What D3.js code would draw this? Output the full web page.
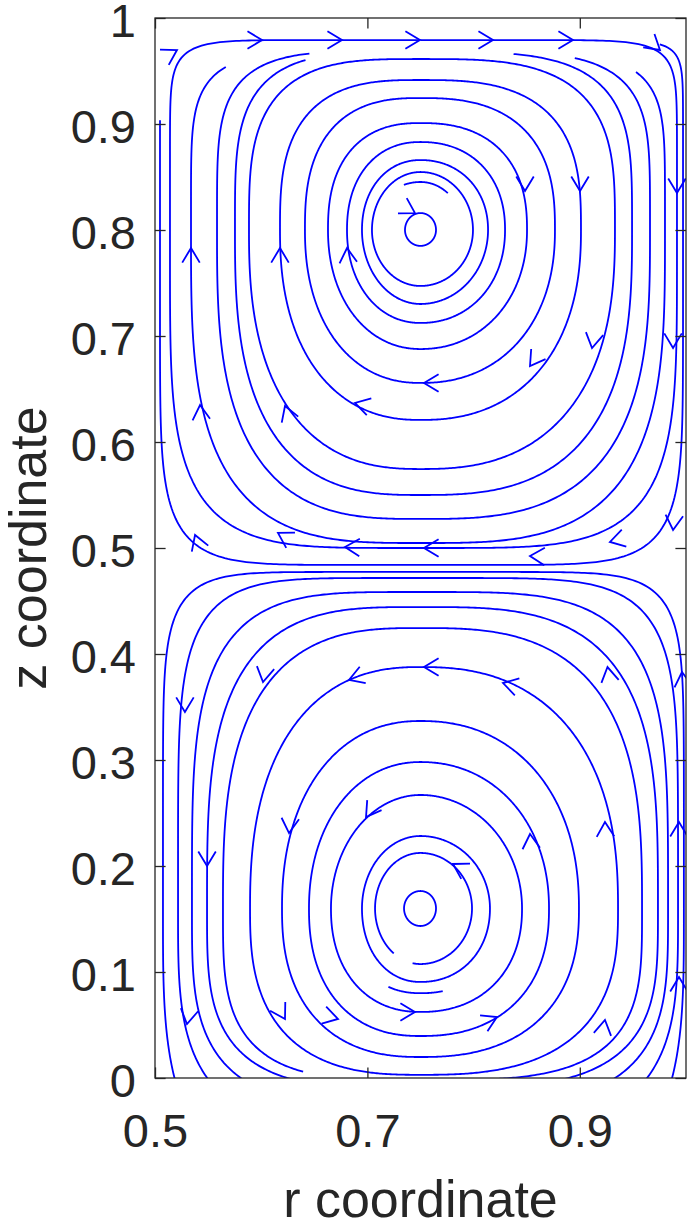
<!DOCTYPE html>
<html>
<head>
<meta charset="utf-8">
<script src="https://cdn.jsdelivr.net/npm/d3@7"></script>
<style>
  body { margin: 0; background: #fff; }
  text { font-family: "Liberation Sans", Arial, sans-serif; fill: #262626; }
</style>
</head>
<body>
<div id="chart"></div>
<script>
// axis ticks
const xTicks = [0.5, 0.7, 0.9];
const yTicks = [0, 0.1, 0.2, 0.3, 0.4, 0.5, 0.6, 0.7, 0.8, 0.9, 1];

// upper vortex: centre, then each streamline as
// [left r, right r, top z, bottom z, squareness top, squareness bottom, start deg, end deg]
const upperCentre = [0.75, 0.80];
const upperLoops = [
  [0.7354, 0.7646, 0.816, 0.785, 2, 2, 0, -360],
  [0.7043, 0.7994, 0.8547, 0.7472, 2, 2, 90, -270],
  [0.7043, 0.790, 0.8453, 0.750, 2, 2, 110, 50],
  [0.6949, 0.8136, 0.866, 0.7302, 2.1, 2, 90, -270],
  [0.6808, 0.8296, 0.883, 0.7123, 2.2, 2.1, 90, -270],
  [0.6629, 0.8503, 0.9009, 0.6877, 2.4, 2.1, 90, -270],
  [0.6412, 0.8766, 0.9245, 0.6557, 2.6, 2.2, 90, -270],
  [0.6177, 0.9011, 0.9415, 0.6208, 2.9, 2.3, 90, -270],
  [0.5885, 0.9331, 0.9613, 0.5745, 3.3, 2.5, 90, -270],
  [0.5753, 0.9492, 0.968, 0.550, 3.8, 2.8, 66, -237],
  [0.5584, 0.9661, 0.969, 0.5274, 4.5, 3, 55, -241],
  [0.5339, 0.9802, 0.969, 0.5047, 5.5, 3.3, 45, -227],
  [0.5141, 0.9915, 0.9792, 0.500, 10, 4.5, 90, -270],
  [0.5047, 0.9972, 0.9792, 0.484, 14, 7, 47, -210]
];

// lower vortex, same layout
const lowerCentre = [0.75, 0.16];
const lowerLoops = [
  [0.7345, 0.7646, 0.1764, 0.1434, 2, 2, 0, 360],
  [0.7072, 0.7985, 0.2123, 0.1075, 2, 2, -100, 234],
  [0.6949, 0.8154, 0.2283, 0.0906, 2, 2.1, 0, 360],
  [0.680, 0.830, 0.245, 0.080, 2, 2.2, -115, -75],
  [0.6657, 0.8456, 0.267, 0.0623, 2, 2.2, 0, 360],
  [0.645, 0.871, 0.2981, 0.0396, 2.1, 2.3, 0, 360],
  [0.6196, 0.8992, 0.3368, 0.0198, 2.2, 2.4, 0, 360],
  [0.5895, 0.936, 0.3877, 0.003, 2.4, 2.7, 0, 360],
  [0.564, 0.9586, 0.4245, -0.002, 2.9, 3.5, -80, 238],
  [0.549, 0.9736, 0.4443, -0.010, 3.3, 3.5, 0, 360],
  [0.5348, 0.9831, 0.4585, -0.028, 4, 3.5, 0, 360],
  [0.5217, 0.9925, 0.4717, -0.054, 5.5, 3.5, 0, 360],
  [0.5075, 0.998, 0.4774, -0.116, 8, 3.5, 0, 360]
];

// arrowheads: [r, z, direction deg]
const arrows = [
  [0.6008, 0.9792, 0], [0.6761, 0.9792, 0], [0.7495, 0.9792, 0], [0.8183, 0.9792, 0], [0.8936, 0.9792, 0],
  [0.5207, 0.9698, 30], [0.9755, 0.9698, -40],
  [0.8484, 0.8368, -90], [0.9002, 0.8368, -90], [0.9915, 0.8349, -90],
  [0.9115, 0.6887, -100], [0.8531, 0.6717, -125], [0.9878, 0.6887, -90],
  [0.7533, 0.6557, 180], [0.6883, 0.6368, 165], [0.6224, 0.6340, 110], [0.5424, 0.6349, 95],
  [0.5377, 0.5123, 110], [0.6158, 0.5142, 150], [0.6789, 0.5009, 178], [0.7533, 0.5, 180],
  [0.8531, 0.4925, 178], [0.9284, 0.5057, 195], [0.9878, 0.5170, -95],
  [0.5339, 0.7830, 90], [0.6177, 0.7830, 90], [0.6808, 0.7830, 95], [0.7448, 0.8160, -30],
  [0.5282, 0.3453, -90], [0.6017, 0.3736, -100], [0.6827, 0.3755, 200], [0.7533, 0.3877, 180],
  [0.8277, 0.3726, 165], [0.9261, 0.3877, 100], [0.9962, 0.383, 95],
  [0.6262, 0.2311, -95], [0.6987, 0.2462, -125], [0.8531, 0.2302, 95], [0.9237, 0.2415, 92],
  [0.9934, 0.2415, 90], [0.5490, 0.2, -90], [0.7806, 0.2019, 150],
  [0.5301, 0.0509, -100], [0.6224, 0.0557, -60], [0.6723, 0.0557, -15], [0.7448, 0.0623, 0],
  [0.8220, 0.0575, 25], [0.9237, 0.0547, 80], [0.9934, 0.0953, 90]
];

const W = 690, H = 1223;
const margin = { top: 18, right: 4, bottom: 145, left: 155 };
const plotW = W - margin.left - margin.right;
const plotH = H - margin.top - margin.bottom;

const x = d3.scaleLinear().domain([0.5, 1]).range([0, plotW]);
const y = d3.scaleLinear().domain([0, 1]).range([plotH, 0]);

const svg = d3.select("#chart").append("svg")
  .attr("width", W).attr("height", H);
svg.append("rect").attr("width", W).attr("height", H).attr("fill", "#fff");

const g = svg.append("g").attr("transform", `translate(${margin.left},${margin.top})`);

svg.append("defs").append("clipPath").attr("id", "plotclip")
  .append("rect").attr("width", plotW).attr("height", plotH);

// one streamline as points along a squared-off oval
function streamPoints(c, d) {
  const [L, R, T, B, nT, nB, a0, a1] = d;
  const pts = [];
  const step = a1 > a0 ? 0.5 : -0.5;
  const count = Math.round((a1 - a0) / step);
  for (let i = 0; i <= count; i++) {
    const th = (a0 + i * step) * Math.PI / 180;
    const cs = Math.cos(th), sn = Math.sin(th);
    const n = sn >= 0 ? nT : nB;
    const rad = 1 / Math.pow(Math.pow(Math.abs(cs), n) + Math.pow(Math.abs(sn), n), 1 / n);
    const hx = cs >= 0 ? R - c[0] : c[0] - L;
    const hz = sn >= 0 ? T - c[1] : c[1] - B;
    pts.push([c[0] + hx * rad * cs, c[1] + hz * rad * sn]);
  }
  return pts;
}

const line = d3.line().x(d => x(d[0])).y(d => y(d[1]));

const lines = g.append("g").attr("clip-path", "url(#plotclip)");
const all = upperLoops.map(d => streamPoints(upperCentre, d))
  .concat(lowerLoops.map(d => streamPoints(lowerCentre, d)));

lines.selectAll("path.stream")
  .data(all)
  .join("path")
  .attr("class", "stream")
  .attr("d", line)
  .attr("fill", "none")
  .attr("stroke", "#0000ff")
  .attr("stroke-width", 1.8);

// arrowheads
const headLen = 17, headAng = 31 * Math.PI / 180;
lines.selectAll("path.head")
  .data(arrows)
  .join("path")
  .attr("class", "head")
  .attr("d", d => {
    const tx = x(d[0]), ty = y(d[1]);
    const a = d[2] * Math.PI / 180;
    const ux = Math.cos(a), uy = -Math.sin(a);
    const p = s => {
      const c = Math.cos(s * headAng), sn = Math.sin(s * headAng);
      const vx = ux * c - uy * sn, vy = ux * sn + uy * c;
      return [tx - headLen * vx, ty - headLen * vy];
    };
    const p1 = p(1), p2 = p(-1);
    return `M${p1[0]},${p1[1]}L${tx},${ty}L${p2[0]},${p2[1]}`;
  })
  .attr("fill", "none")
  .attr("stroke", "#0000ff")
  .attr("stroke-width", 1.8);

// axes, ticks inward on all four sides
const tickLen = 10.6;
const xAxis = g.append("g").attr("transform", `translate(0,${plotH})`)
  .call(d3.axisBottom(x).tickValues(xTicks).tickSizeInner(-tickLen).tickSizeOuter(0).tickPadding(36)
    .tickFormat(d3.format("")));
const yAxis = g.append("g")
  .call(d3.axisLeft(y).tickValues(yTicks).tickSizeInner(-tickLen).tickSizeOuter(0).tickPadding(19)
    .tickFormat(d3.format("")));
const xTop = g.append("g")
  .call(d3.axisTop(x).tickValues(xTicks).tickSizeInner(-tickLen).tickSizeOuter(0).tickFormat(""));
const yRight = g.append("g").attr("transform", `translate(${plotW},0)`)
  .call(d3.axisRight(y).tickValues(yTicks).tickSizeInner(-tickLen).tickSizeOuter(0).tickFormat(""));

[xAxis, yAxis, xTop, yRight].forEach(a => {
  a.select(".domain").remove();
  a.selectAll(".tick line").attr("stroke", "#262626").attr("stroke-width", 1.3);
  a.selectAll("text").attr("font-size", 47).attr("fill", "#262626")
    .attr("font-family", "'Liberation Sans', Arial, sans-serif");
});
yAxis.selectAll("text").attr("dy", "0.40em");

g.append("rect").attr("width", plotW).attr("height", plotH)
  .attr("fill", "none").attr("stroke", "#262626").attr("stroke-width", 1.3);

svg.append("text")
  .attr("x", margin.left + plotW / 2).attr("y", 1217)
  .attr("text-anchor", "middle").attr("font-size", 52)
  .text("r coordinate");

svg.append("text")
  .attr("transform", `translate(46,${margin.top + plotH / 2}) rotate(-90)`)
  .attr("text-anchor", "middle").attr("font-size", 52)
  .text("z coordinate");
</script>
</body>
</html>
